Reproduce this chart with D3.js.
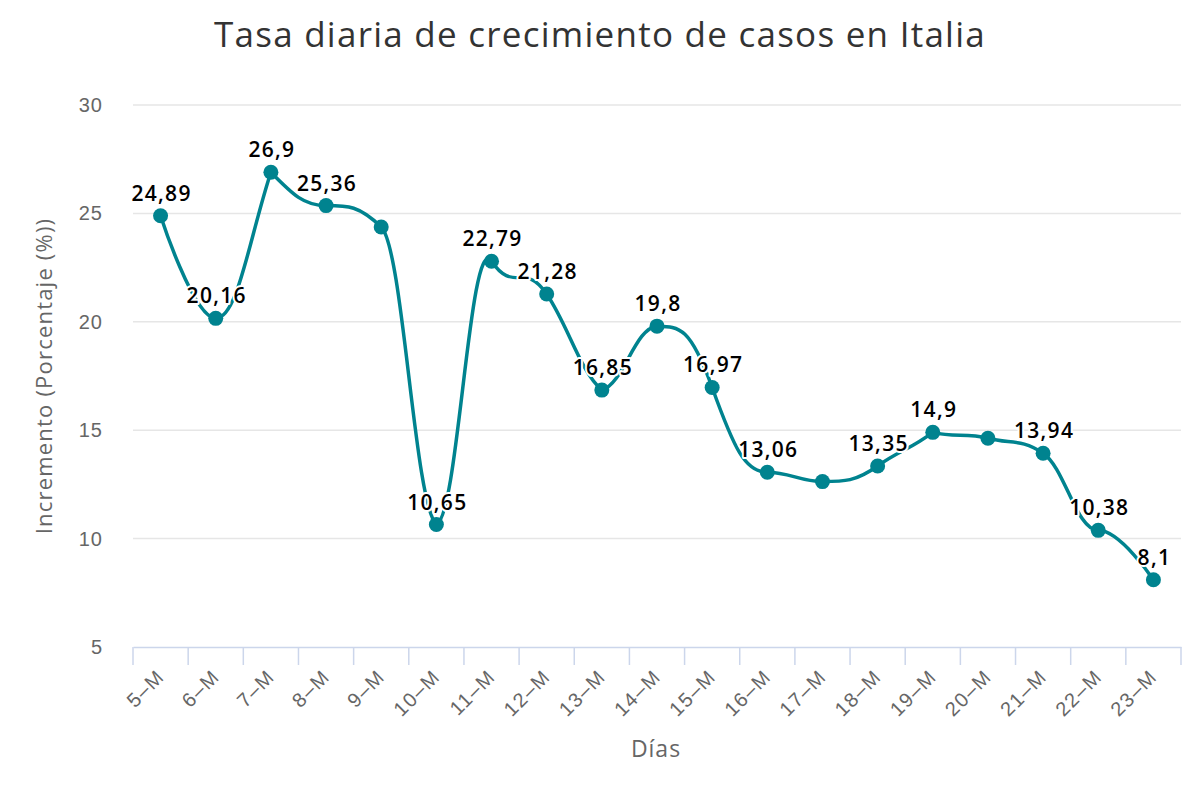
<!DOCTYPE html>
<html><head><meta charset="utf-8">
<script src="https://cdn.jsdelivr.net/npm/d3@7"></script>
<style>
body{margin:0;background:#fff;}
svg{font-family:"Open Sans","Noto Sans",sans-serif;}
</style></head>
<body><svg id="c" width="1200" height="800"></svg>
<script>
const categories = ["5–M","6–M","7–M","8–M","9–M","10–M","11–M","12–M","13–M","14–M","15–M","16–M","17–M","18–M","19–M","20–M","21–M","22–M","23–M"];
const values = [24.89,20.16,26.9,25.36,24.37,10.65,22.79,21.28,16.85,19.8,16.97,13.06,12.63,13.35,14.9,14.63,13.94,10.38,8.1];
const showLabel = [1,1,1,1,0,1,1,1,1,1,1,1,0,1,1,0,1,1,1];
const yTicks = [5,10,15,20,25,30];
const titleText = "Tasa diaria de crecimiento de casos en Italia";
const yTitle = "Incremento (Porcentaje (%))";
const xTitle = "Días";

const svg = d3.select("#c");
const pLeft = 133, pRight = 1181, pTop = 105, pBottom = 647;
const x = d3.scaleBand().domain(categories).range([pLeft, pRight]);
const y = d3.scaleLinear().domain([5, 30]).range([pBottom, pTop]);
const color = "#00838f";

svg.append("text").attr("x", 600).attr("y", 47).attr("text-anchor", "middle")
  .attr("font-size", 35).attr("letter-spacing", 1.25).attr("fill", "#333").text(titleText);

// grid
svg.append("g").selectAll("line").data(yTicks.filter(d => d > 5)).join("line")
  .attr("x1", pLeft).attr("x2", pRight).attr("y1", d => y(d)).attr("y2", d => y(d))
  .attr("stroke", "#e6e6e6").attr("stroke-width", 1.5);

// y axis labels
const ya = svg.append("g").attr("transform", `translate(${pLeft},0)`)
  .call(d3.axisLeft(y).tickValues(yTicks).tickSize(0).tickPadding(30));
ya.select(".domain").remove();
ya.selectAll("text").attr("font-size", 20).attr("letter-spacing", 1).attr("fill", "#666").attr("font-family", "inherit");

// x axis
const xa = svg.append("g").attr("transform", `translate(0,${pBottom})`)
  .call(d3.axisBottom(x).tickSize(0).tickFormat(d => d));
xa.select(".domain").attr("stroke", "#ccd6eb").attr("stroke-width", 1.5);
xa.selectAll(".tick line").remove();
const bounds = categories.map(c => x(c)).concat([pRight]);
svg.append("g").selectAll("line").data(bounds).join("line")
  .attr("x1", d => d).attr("x2", d => d).attr("y1", pBottom).attr("y2", pBottom + 18)
  .attr("stroke", "#ccd6eb").attr("stroke-width", 1.5);
xa.selectAll("text").attr("font-size", 20).attr("letter-spacing", 1.5).attr("fill", "#666").attr("font-family", "inherit")
  .attr("text-anchor", "end").attr("dy", 0).attr("y", 0)
  .attr("transform", d => `translate(5,31) rotate(-45)`);

svg.append("text").attr("transform", `translate(52,${(pTop+pBottom)/2}) rotate(-90)`)
  .attr("text-anchor", "middle").attr("font-size", 22).attr("letter-spacing", 1.2).attr("fill", "#666").text(yTitle);
svg.append("text").attr("x", 656).attr("y", 757).attr("text-anchor", "middle")
  .attr("font-size", 23).attr("letter-spacing", 1).attr("fill", "#666").text(xTitle);

// Highcharts-style spline
const pts = values.map((v, i) => ({px: x(categories[i]) + x.bandwidth()/2, py: y(v)}));
const path = d3.path();
const smoothing = 1.5, denom = smoothing + 1;
pts.forEach((p, i) => {
  if (i === 0) { path.moveTo(p.px, p.py); return; }
  const last = pts[i-1], next = pts[i+1];
  let lcx = p.px, lcy = p.py;
  if (next) {
    lcx = (smoothing*p.px + last.px)/denom;
    lcy = (smoothing*p.py + last.py)/denom;
    const rcx = (smoothing*p.px + next.px)/denom;
    let rcy = (smoothing*p.py + next.py)/denom;
    const corr = (lcy - rcy)*(rcx - p.px)/(rcx - lcx) + p.py - rcy;
    lcy += corr; rcy += corr;
    if (lcy > last.py && lcy > p.py) { lcy = Math.max(last.py, p.py); rcy = 2*p.py - lcy; }
    else if (lcy < last.py && lcy < p.py) { lcy = Math.min(last.py, p.py); rcy = 2*p.py - lcy; }
    if (rcy > next.py && rcy > p.py) { rcy = Math.max(next.py, p.py); lcy = 2*p.py - rcy; }
    else if (rcy < next.py && rcy < p.py) { rcy = Math.min(next.py, p.py); lcy = 2*p.py - rcy; }
    p.rcx = rcx; p.rcy = rcy;
  }
  path.bezierCurveTo(last.rcx ?? last.px, last.rcy ?? last.py, lcx, lcy, p.px, p.py);
});
svg.append("path").attr("d", path.toString()).attr("fill", "none")
  .attr("stroke", color).attr("stroke-width", 3.5).attr("stroke-linejoin", "round");

svg.append("g").selectAll("circle").data(pts).join("circle")
  .attr("cx", d => d.px).attr("cy", d => d.py).attr("r", 7.5).attr("fill", color);

svg.append("g").selectAll("text").data(values.map((v, i) => ({v, i})).filter(d => showLabel[d.i])).join("text")
  .attr("x", d => pts[d.i].px + 1).attr("y", d => pts[d.i].py - 15)
  .attr("text-anchor", "middle").attr("font-size", 21).attr("font-weight", 600).attr("letter-spacing", 1.3)
  .attr("fill", "#000").attr("stroke", "#fff").attr("stroke-width", 4)
  .attr("paint-order", "stroke").attr("stroke-linejoin", "round")
  .text(d => String(d.v).replace(".", ","));
</script></body></html>
